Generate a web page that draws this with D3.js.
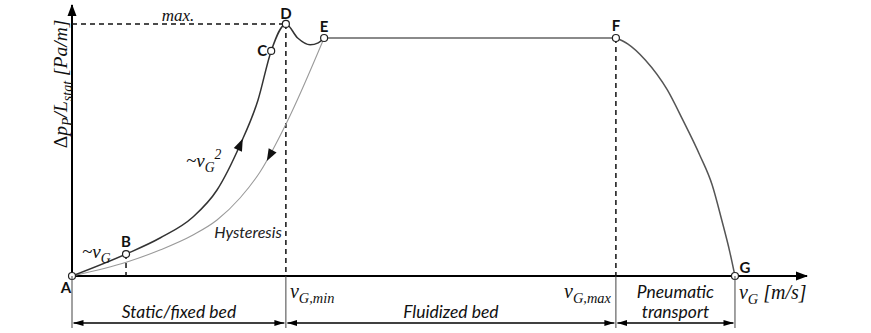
<!DOCTYPE html>
<html><head><meta charset="utf-8">
<script src="https://cdn.jsdelivr.net/npm/d3@7"></script>
<style>body{margin:0;background:#fff} svg{display:block}</style>
</head><body><svg id="chart"></svg>
<script>
// ---- data (v_G in arbitrary units 0..100, pressure drop in % of max)
var riseX = [0, 7.35, 11.97, 16.46, 19.73, 22.86, 25.31, 27.1, 29.1, 30.7, 32.4, 33.5, 34.3]
var riseY = [0, 8.7, 15.07, 23.4, 34.11, 51.97, 69.82, 89.3, 100, 94.4, 91.7, 92.5, 94.4]
var hystX = [0, 7.48, 11.97, 16.46, 19.73, 22.86, 25.58, 29.25, 34.3]
var hystY = [0, 5.55, 10.31, 16.26, 22.21, 30.94, 41.26, 61.09, 94.4]
var dropX = [74.0, 75.6, 78.0, 81.0, 83.1, 85.4, 87.1, 88.4, 89.5, 90.2]
var dropY = [94.4, 92.1, 85.7, 73.8, 61.9, 48.0, 36.1, 22.2, 9.5, 0]
var pointNames = ['A', 'B', 'C', 'D', 'E', 'F', 'G']
var pointX = [0, 7.35, 27.1, 29.1, 34.3, 74.0, 90.2]
var pointY = [0, 8.7, 89.3, 100, 94.4, 94.4, 0]
var regionEdges = [0, 29.1, 74.0, 90.2]
var regionLabels = [['Static/fixed bed'], ['Fluidized bed'], ['Pneumatic', 'transport']]
var arrowUpAt = 22.9, arrowDownAt = 26.9

var W = 871, H = 333
var svg = d3.select('#chart').attr('width', W).attr('height', H)
var x = d3.scaleLinear().domain([0, 100]).range([72, 807])
var y = d3.scaleLinear().domain([0, 107.5]).range([276, 5])
var mathFont = '"Liberation Serif", "DejaVu Serif", serif'
var sansFont = 'Lato, "Open Sans", sans-serif'

var defs = svg.append('defs')
defs.append('marker').attr('id', 'axArrow').attr('viewBox', '0 -5 12 10').attr('refX', 11).attr('refY', 0)
    .attr('markerUnits', 'userSpaceOnUse').attr('markerWidth', 12).attr('markerHeight', 10).attr('orient', 'auto')
    .append('path').attr('d', 'M0,-4.5L12,0L0,4.5Z').attr('fill', '#000')
defs.append('marker').attr('id', 'dimArrow').attr('viewBox', '0 -4 10 8').attr('refX', 10).attr('refY', 0)
    .attr('markerUnits', 'userSpaceOnUse').attr('markerWidth', 10).attr('markerHeight', 8).attr('orient', 'auto-start-reverse')
    .append('path').attr('d', 'M0,-3L10,0L0,3Z').attr('fill', '#000')

// ---- axes (no ticks, just the domain lines with arrows)
var xAxis = svg.append('g').attr('transform', 'translate(0,' + y(0) + ')')
    .call(d3.axisBottom(x).ticks(0).tickSizeOuter(0))
xAxis.select('.domain').attr('stroke', '#000').attr('stroke-width', 2).attr('marker-end', 'url(#axArrow)')
var yAxis = svg.append('g').attr('transform', 'translate(' + x(0) + ',0)')
    .call(d3.axisLeft(y).ticks(0).tickSizeOuter(0))
yAxis.select('.domain').attr('stroke', '#000').attr('stroke-width', 2).attr('marker-end', 'url(#axArrow)')
// draw both domain paths from the origin outwards so the arrow sits at the far end
yAxis.select('.domain').attr('d', 'M0,' + y(0) + 'V' + y(107.5))
xAxis.select('.domain').attr('d', 'M' + x(0) + ',0H' + x(100))

// ---- dashed guides
var dash = svg.append('g').attr('stroke', '#111').attr('stroke-width', 1.5).attr('stroke-dasharray', '5,4').attr('fill', 'none')
dash.append('line').attr('x1', x(0)).attr('x2', x(pointX[3])).attr('y1', y(pointY[3])).attr('y2', y(pointY[3]))
;[1, 3, 5].forEach(function (i) {
    dash.append('line').attr('x1', x(pointX[i])).attr('x2', x(pointX[i])).attr('y1', y(pointY[i])).attr('y2', y(0))
})

// ---- curves
var line = d3.line().x(function (d) { return x(d[0]) }).y(function (d) { return y(d[1]) }).curve(d3.curveMonotoneX)
var hyst = svg.append('path').attr('d', line(d3.zip(hystX, hystY))).attr('fill', 'none').attr('stroke', '#9a9a9a').attr('stroke-width', 1.1)
var rise = svg.append('path').attr('d', line(d3.zip(riseX, riseY))).attr('fill', 'none').attr('stroke', '#333').attr('stroke-width', 1.5)
svg.append('line').attr('x1', x(pointX[4])).attr('x2', x(pointX[5])).attr('y1', y(pointY[4])).attr('y2', y(pointY[5]))
    .attr('stroke', '#8a8a8a').attr('stroke-width', 2)
svg.append('path').attr('d', line(d3.zip(dropX, dropY))).attr('fill', 'none').attr('stroke', '#555').attr('stroke-width', 1.5)

// arrowheads on the curves, oriented along the path
function curveArrow(path, atX, reverse, color) {
    var node = path.node(), len = node.getTotalLength(), lo = 0, hi = len
    for (var k = 0; k < 40; k++) { var mid = (lo + hi) / 2; if (node.getPointAtLength(mid).x < x(atX)) lo = mid; else hi = mid }
    var p = node.getPointAtLength(lo), p1 = node.getPointAtLength(lo - 2), p2 = node.getPointAtLength(lo + 2)
    var ang = Math.atan2(p2.y - p1.y, p2.x - p1.x) * 180 / Math.PI + (reverse ? 180 : 0)
    svg.append('path').attr('d', 'M6,0L-6,-4.5L-6,4.5Z').attr('fill', color)
        .attr('transform', 'translate(' + p.x + ',' + p.y + ') rotate(' + ang + ')')
}
curveArrow(rise, arrowUpAt, false, '#111')
curveArrow(hyst, arrowDownAt, true, '#111')

// ---- points and letters
var letterOff = { A: [-6, 17], B: [0, -7], C: [-9, 5], D: [0, -5], E: [0, -6], F: [0, -7], G: [10, -3] }
pointNames.forEach(function (n, i) {
    svg.append('circle').attr('cx', x(pointX[i])).attr('cy', y(pointY[i])).attr('r', 3.5)
        .attr('fill', '#fff').attr('stroke', '#222').attr('stroke-width', 1.2)
    svg.append('text').attr('x', x(pointX[i]) + letterOff[n][0]).attr('y', y(pointY[i]) + letterOff[n][1])
        .attr('text-anchor', 'middle').attr('font-family', sansFont).attr('font-weight', 'bold').attr('font-size', 15)
        .attr('fill', '#111').text(n)
})

// ---- math-style labels
function math(px, py, parts, size, anchor, rotate) {
    var t = svg.append('text').attr('font-family', mathFont).attr('font-style', 'italic').attr('font-size', size)
        .attr('fill', '#111').attr('text-anchor', anchor || 'start')
    if (rotate) t.attr('transform', 'translate(' + px + ',' + py + ') rotate(' + rotate + ')')
    else t.attr('x', px).attr('y', py)
    var shift = 0
    parts.forEach(function (p) {
        var s = p[1] == 'sub' ? size * 0.25 : p[1] == 'sup' ? -size * 0.4 : 0
        var ts = t.append('tspan').text(p[0]).attr('dy', s - shift)
        if (p[1] == 'sub' || p[1] == 'sup') ts.attr('font-size', size * 0.72)
        if (p[1] == 'up') ts.attr('font-style', 'normal')
        shift = s
    })
    return t
}
math(178, 21, [['max.']], 17, 'middle')
math(82, 258, [['~'], ['v'], ['G', 'sub']], 19)
math(186, 167, [['~'], ['v'], ['G', 'sub'], ['2', 'sup']], 19)
math(x(regionEdges[1]) + 4, 298, [['v'], ['G,min', 'sub']], 20)
math(x(regionEdges[2]) - 5, 298, [['v'], ['G,max', 'sub']], 20, 'end')
math(x(regionEdges[3]) + 4, 299, [['v'], ['G', 'sub'], [' [m/s]']], 20)
math(67, 84, [['Δ', 'up'], ['p'], ['P', 'sub'], ['/'], ['L'], ['stat', 'sub'], [' [Pa/m]']], 19.5, 'middle', -90)

svg.append('text').attr('x', 248).attr('y', 238).attr('text-anchor', 'middle').attr('font-family', sansFont)
    .attr('font-style', 'italic').attr('font-size', 16).attr('fill', '#222').text('Hysteresis')

// ---- region dimension lines
var dim = svg.append('g')
regionEdges.forEach(function (e) {
    dim.append('line').attr('x1', x(e)).attr('x2', x(e)).attr('y1', y(0)).attr('y2', 328).attr('stroke', '#444').attr('stroke-width', 1)
})
regionLabels.forEach(function (lab, i) {
    var a = x(regionEdges[i]), b = x(regionEdges[i + 1])
    dim.append('line').attr('x1', a + 1.5).attr('x2', b - 1.5).attr('y1', 323).attr('y2', 323)
        .attr('stroke', '#000').attr('stroke-width', 1.5).attr('marker-start', 'url(#dimArrow)').attr('marker-end', 'url(#dimArrow)')
    lab.forEach(function (s, j) {
        dim.append('text').attr('x', (a + b) / 2).attr('y', (lab.length == 1 ? 318 : 298 + j * 20))
            .attr('text-anchor', 'middle').attr('font-family', sansFont).attr('font-style', 'italic')
            .attr('font-size', 17.5).attr('fill', '#111').text(s)
    })
})
</script></body></html>
